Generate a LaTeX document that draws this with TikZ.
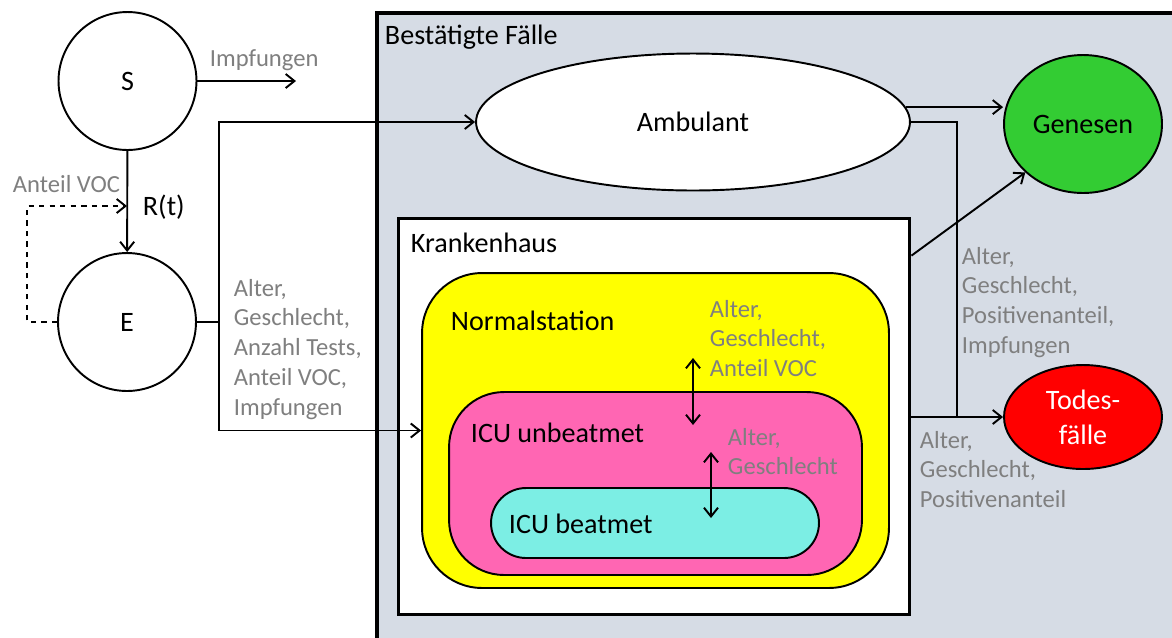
\documentclass[tikz,border=0pt]{standalone}
\usepackage{fontspec}
\setmainfont{Carlito}
\usepackage{tikz}
\usetikzlibrary{shapes.geometric, arrows.meta, positioning}

\definecolor{faelle}{HTML}{D6DCE5}
\definecolor{infogray}{HTML}{7F7F7F}
\definecolor{genesen}{HTML}{33CC33}
\definecolor{normal}{HTML}{FFFF00}
\definecolor{unbeat}{HTML}{FF66B3}
\definecolor{beat}{HTML}{7CEEE4}

\begin{document}
\begin{tikzpicture}[x=0.02cm, y=-0.02cm, line width=1.1pt,
    >={Straight Barb[length=5pt,width=8pt]},
    lab/.style={font=\fontsize{16}{19}\selectfont, inner sep=0pt},
    info/.style={font=\fontsize{14}{17}\selectfont, text=infogray, align=left, anchor=north west, inner sep=0pt},
    zust/.style={circle, draw, fill=white, minimum size=2.76cm, inner sep=0pt, font=\fontsize{16}{19}\selectfont},
    oval/.style={ellipse, draw, inner sep=0pt, font=\fontsize{16}{19}\selectfont},
    station/.style={draw, inner sep=0pt}]

    \useasboundingbox (0,0) rectangle (1172,637);
    \fill[white] (0,0) rectangle (1172,637);

    % === Bestaetigte Faelle ===
    \draw[line width=2.3pt, fill=faelle] (377,13) rectangle (1200,670);
    \node[lab, anchor=west] (bestlbl) at (384,37) {Bestätigte Fälle};

    % === Compartments S and E ===
    \node[zust] (S) at (127.5,81) {S};
    \node[zust] (E) at (127,322) {E};

    % === Ambulant, Genesen, Todesfaelle ===
    \node[oval, fill=white, minimum width=8.68cm, minimum height=2.74cm] (amb) at (693,122) {Ambulant};
    \node[oval, fill=genesen, minimum width=3.16cm, minimum height=2.76cm] (gen) at (1083,124) {Genesen};
    \node[oval, fill=red, text=white, align=center, minimum width=3.16cm, minimum height=2.08cm,
        font=\fontsize{16}{20}\selectfont] (tod) at (1083,417) {Todes-\\fälle};

    % === Krankenhaus with its stations ===
    \node[station, line width=1.7pt, fill=white, minimum width=10.24cm, minimum height=7.94cm] (kh) at (654,416.5) {};
    \node[lab, anchor=west] (khlbl) at (410,243) {Krankenhaus};
    \node[station, fill=normal, rounded corners=1.2cm, minimum width=9.34cm, minimum height=6.3cm] (ns) at (655.5,430.5) {};
    \node[lab, anchor=west] (nslbl) at (450,321) {Normalstation};
    \node[station, fill=unbeat, rounded corners=1.1cm, minimum width=8.26cm, minimum height=3.66cm] (icuu) at (655.5,483.5) {};
    \node[lab, anchor=west] (icuulbl) at (470,433) {ICU unbeatmet};
    \node[station, fill=beat, rounded corners=0.7cm, minimum width=6.56cm, minimum height=1.4cm] (icub) at (655,523) {};
    \node[lab, anchor=west] (icublbl) at (508,524) {ICU beatmet};

    % === Flows on the left ===
    \coordinate (impf) at (296,81);
    \coordinate (rt) at (127,206);
    \coordinate (vocbend) at (27,206);
    \coordinate (split) at (219,322);
    \draw[->] (S.east) -- (impf);
    \draw[->] (S) -- (E);
    \draw[dashed, ->] (E.west) -| (vocbend) -- (rt);
    \draw (E.east) -- (split);
    \draw[->] (split) |- (amb.west);
    \draw[->] (split) |- (ns.west);

    \node[lab, anchor=west] (rtlbl) at (142,207) {R(t)};
    \node[info] (voclbl) at (12,174) {Anteil VOC};
    \node[info] (impflbl) at (209,49) {Impfungen};
    \node[info] (einfo) at (233,278) {Alter,\\Geschlecht,\\Anzahl Tests,\\Anteil VOC,\\Impfungen};

    % === Flows on the right ===
    \coordinate (merge) at (957,417);
    \draw[->] (amb.4) -- (gen.west |- amb.4);
    \draw (amb.east) -| (merge);
    \draw[->] (kh.32.1) -- (gen.220.7);
    \draw[->] (kh.east |- tod.west) -- (tod.west);

    \node[info] (geninfo) at (961,246) {Alter,\\Geschlecht,\\Positivenanteil,\\Impfungen};
    \node[info] (todinfo) at (919,430) {Alter,\\Geschlecht,\\Positivenanteil};

    % === Transfers between the stations ===
    \coordinate (nsup) at (693,358);
    \coordinate (nsdown) at (693,425);
    \coordinate (icuup) at (711,452);
    \coordinate (icudown) at (711,518);
    \draw[<->] (nsup) -- (nsdown);
    \draw[<->] (icuup) -- (icudown);
    \node[info] (nsinfo) at (709,299) {Alter,\\Geschlecht,\\Anteil VOC};
    \node[info] (icuinfo) at (727,427) {Alter,\\Geschlecht};
\end{tikzpicture}
\end{document}
